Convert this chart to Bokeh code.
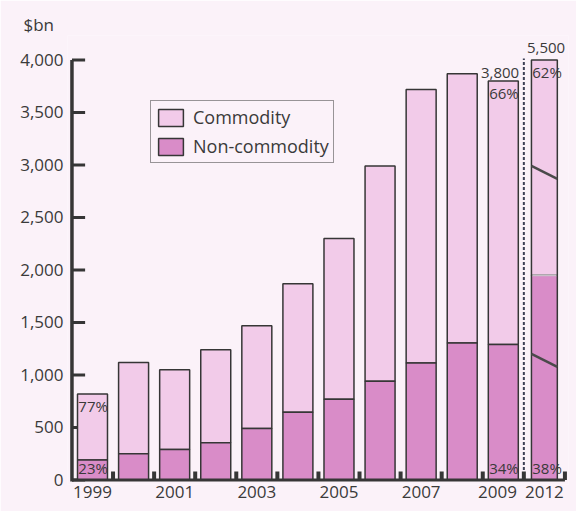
from bokeh.plotting import figure
from bokeh.models import (ColumnDataSource, FixedTicker, NumeralTickFormatter,
                          Legend, LegendItem)
from bokeh.core.properties import value
from bokeh.embed import file_html
from bokeh.resources import INLINE

# ---- data ($bn) -------------------------------------------------------------
years = ["1999", "2000", "2001", "2002", "2003", "2004",
         "2005", "2006", "2007", "2008", "2009", "2012"]
total = [820, 1120, 1050, 1240, 1470, 1870, 2300, 2990, 3720, 3870, 3800, 5500]
non_commodity = [190, 250, 290, 355, 490, 645, 770, 940, 1115, 1305, 1290, 2090]

year_ticks = ["1999", "2001", "2003", "2005", "2007", "2009", "2012"]
y_ticks = [0, 500, 1000, 1500, 2000, 2500, 3000, 3500, 4000]

# bars whose shares are printed, and bars whose total is printed
share_years = ["1999", "2009", "2012"]
total_years = ["2009", "2012"]

# the 2012 bar is drawn on a broken scale: two cuts (actual $bn removed)
breaks_2012 = [(1140, 140), (3070, 1360)]   # (level where cut starts, amount cut)

# ---- styling ----------------------------------------------------------------
BG = "#fbf2f9"
COMMODITY = "#f2cbe9"
NON_COMMODITY = "#d98cc8"
INK = "#363636"
TEXT = "#3a3a3a"
FONT = "Open Sans"


def shown(v, broken):
    """Height of a value on the drawing scale (2012 bar uses the broken scale)."""
    if not broken:
        return v
    out = v
    for level, cut in breaks_2012:
        if v > level:
            out -= min(cut, v - level)
    return out


xs = list(range(len(years)))
broken = [y == "2012" for y in years]
widths = [0.63 if b else 0.73 for b in broken]
tot_s = [shown(t, b) for t, b in zip(total, broken)]
non_s = [shown(n, b) for n, b in zip(non_commodity, broken)]

src = ColumnDataSource(dict(x=xs, w=widths, total=tot_s, non=non_s))

p = figure(width=576, height=511, output_backend="svg", toolbar_location=None,
           x_range=(-0.6086, 11.587), y_range=(-42.9, 4233.3),
           min_border_left=67, min_border_right=8,
           min_border_top=35, min_border_bottom=27,
           title="$bn")
p.background_fill_color = BG
p.border_fill_color = BG
p.outline_line_color = None
p.grid.visible = False

# unit label as the title, set left of the axis
p.title.text_font = FONT
p.title.text_font_size = "17px"
p.title.text_font_style = "normal"
p.title.text_color = TEXT
p.title.align = "left"
p.title.offset = -44
p.title.standoff = 0

# y ticks (inside, pointing right) — drawn before the bars
p.segment(x0=[-0.5] * len(y_ticks), x1=[-0.18] * len(y_ticks),
          y0=y_ticks, y1=y_ticks, line_color=INK, line_width=3)

# stacked bars
r_com = p.vbar(x="x", width="w", bottom="non", top="total", source=src,
               fill_color=COMMODITY, line_color=INK, line_width=1.5)
r_non = p.vbar(x="x", width="w", bottom=0, top="non", source=src,
               fill_color=NON_COMMODITY, line_color=INK, line_width=1.5)

# 2012 bar: pale boundary and break marks
i12 = years.index("2012")
x12, w12 = xs[i12], widths[i12]
p.segment(x0=[x12 - w12 / 2 + 0.02], x1=[x12 + w12 / 2 - 0.02],
          y0=[non_s[i12]], y1=[non_s[i12]], line_color="#c8c0c8", line_width=2)
bx0, bx1, by0, by1 = [], [], [], []
for level, cut in breaks_2012:
    lv = shown(level, True)
    bx0.append(x12 - w12 / 2)
    bx1.append(x12 + w12 / 2)
    by0.append(lv + 62)
    by1.append(lv - 62)
p.segment(x0=bx0, x1=bx1, y0=by0, y1=by1, line_color="#4a4a4a", line_width=2.5)

# dashed separator before 2012
p.segment(x0=[i12 - 0.5], x1=[i12 - 0.5], y0=[0], y1=[4014],
          line_color="#3c3f55", line_width=2, line_dash="3 2")

# axis lines and the bottom ticks between bars
p.segment(x0=[-0.5], x1=[-0.5], y0=[-14], y1=[4000], line_color=INK, line_width=3.5)
p.segment(x0=[-0.5], x1=[len(years) - 0.5], y0=[0], y1=[0], line_color=INK, line_width=3)
bt = [i + 0.5 for i in range(len(years))]
p.segment(x0=bt, x1=bt, y0=[0] * len(bt), y1=[80] * len(bt), line_color=INK, line_width=4)

# share and total labels
lab = dict(x=[], y=[], t=[], a=[], b=[], dy=[])
for yr in share_years:
    i = years.index(yr)
    left = xs[i] - widths[i] / 2
    pct_non = round(100 * non_commodity[i] / total[i])
    lab["x"] += [left + 0.02, left + 0.02]
    lab["y"] += [tot_s[i], 0]
    lab["t"] += [f"{100 - pct_non}%", f"{pct_non}%"]
    lab["a"] += ["left", "left"]
    lab["b"] += ["top", "bottom"]
    lab["dy"] += [2, -2]
for yr in total_years:
    i = years.index(yr)
    if broken[i]:
        lab["x"].append(xs[i] + 0.04)
        lab["a"].append("center")
        lab["dy"].append(-7)
    else:
        lab["x"].append(xs[i] + widths[i] / 2 + 0.02)
        lab["a"].append("right")
        lab["dy"].append(-3)
    lab["y"].append(tot_s[i])
    lab["t"].append(f"{total[i]:,}")
    lab["b"].append("bottom")
p.text(x="x", y="y", text="t", text_align="a", text_baseline="b", y_offset="dy",
       source=ColumnDataSource(lab), text_font=value(FONT),
       text_font_size="15px", text_color=TEXT)

# axes
p.yaxis.ticker = FixedTicker(ticks=y_ticks)
p.yaxis.formatter = NumeralTickFormatter(format="0,0")
tick_pos = {"2009": 9.86}
xt = [tick_pos.get(y, years.index(y)) for y in year_ticks]
p.xaxis.ticker = FixedTicker(ticks=xt)
p.xaxis.major_label_overrides = {t: y for t, y in zip(xt, year_ticks)}
for ax in (p.xaxis, p.yaxis):
    ax.axis_line_color = None
    ax.major_tick_line_color = None
    ax.minor_tick_line_color = None
    ax.major_tick_in = 0
    ax.major_tick_out = 0
    ax.major_label_text_font = FONT
    ax.major_label_text_font_size = "17px"
    ax.major_label_text_color = TEXT
p.yaxis.major_label_standoff = 4
p.xaxis.major_label_standoff = 1

legend = Legend(items=[LegendItem(label="Commodity", renderers=[r_com]),
                       LegendItem(label="Non-commodity", renderers=[r_non])],
                location=(83, 321), orientation="vertical",
                glyph_width=31, glyph_height=21, label_height=21,
                label_standoff=7, spacing=5, padding=4, margin=0,
                label_text_font=FONT, label_text_font_size="18px",
                label_text_color=TEXT, border_line_color=INK,
                border_line_width=1.5, background_fill_color=BG,
                background_fill_alpha=1.0)
p.add_layout(legend)

open("out.html", "w").write(file_html(p, INLINE))
